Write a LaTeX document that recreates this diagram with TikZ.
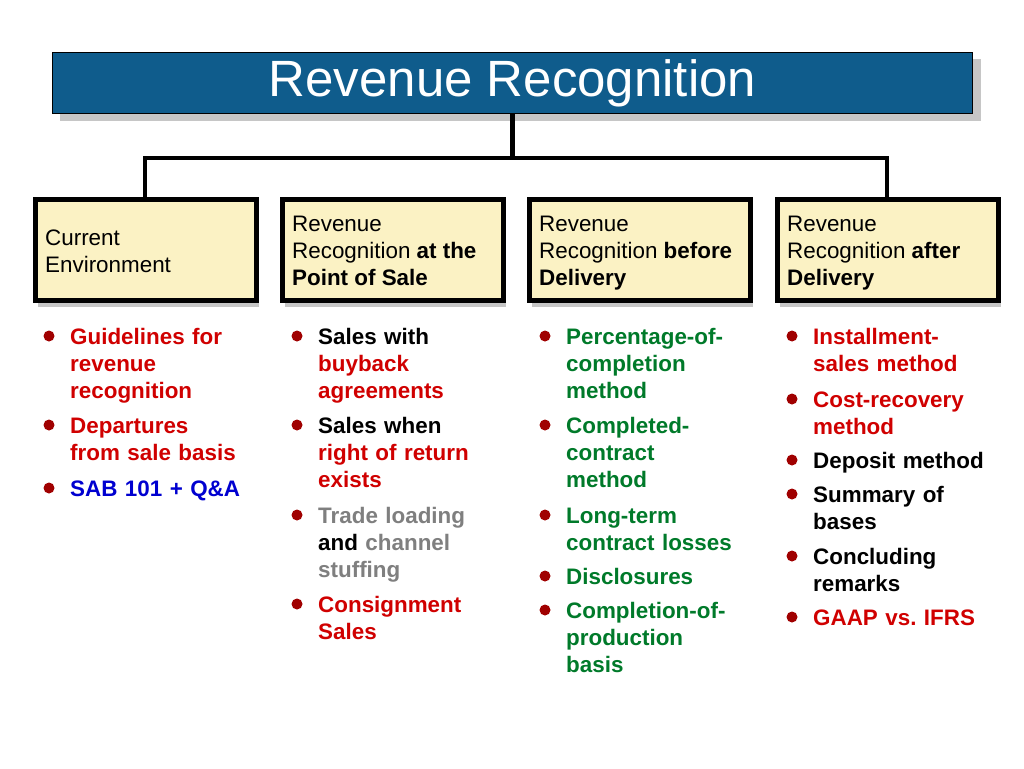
\documentclass[tikz,border=0pt]{standalone}
\usepackage{fontspec}
\setmainfont{Liberation Sans}
\usepackage{tikz}
\usetikzlibrary{calc}
\frenchspacing
\definecolor{titleblue}{HTML}{0F5C8C}
\definecolor{cream}{HTML}{FBF2C4}
\definecolor{dotred}{HTML}{A00000}
\definecolor{itred}{HTML}{D00000}
\definecolor{itgreen}{HTML}{007A2A}
\definecolor{itgray}{HTML}{7F7F7F}
\definecolor{itblue}{HTML}{0000D0}
\tikzset{
  headbox/.style={draw=black, line width=4.5pt, fill=cream, minimum width=221pt, minimum height=101pt, anchor=north west},
  headtext/.style={anchor=north west, align=left, font=\fontsize{22.4}{27}\selectfont, inner sep=0pt},
  itemtext/.style={anchor=base west, align=left, text width=190pt, font=\fontsize{22.4}{27.3}\selectfont\bfseries, inner sep=0pt},
  dot/.style={circle, fill=dotred, inner sep=0pt, minimum size=11pt},
  link/.style={line width=4.5pt}
}
\newcommand{\bitem}[4]{%
  \node[dot] (d#1) at (#2-21,#3) {};
  \node[itemtext] (t#1) at (#2,#3+8) {#4};}
\begin{document}
\begin{tikzpicture}[x=1pt,y=-1pt]
  \useasboundingbox[fill=white] (0,0) rectangle (1024,768);

  % title
  \fill[gray!45] (60,59) rectangle (981,121);
  \node[draw=black, line width=1pt, fill=titleblue, minimum width=920pt, minimum height=61pt, anchor=north west,
        text=white, font=\fontsize{51}{56}\selectfont] (title) at (52,52) {Revenue Recognition};

  % heads
  \foreach \n/\x in {a/33,b/280,c/527,d/775}{
    \fill[gray!45] (\x+5,202) rectangle (\x+226,307);
    \node[headbox] (\n) at (\x,197) {};
  }
  \node[headtext] at (45,230) {Current\\Environment};
  \node[headtext] at (292,216) {Revenue\\Recognition \textbf{at the}\\\textbf{Point of Sale}};
  \node[headtext] at (539,216) {Revenue\\Recognition \textbf{before}\\\textbf{Delivery}};
  \node[headtext] at (787,216) {Revenue\\Recognition \textbf{after}\\\textbf{Delivery}};

  % connectors
  \coordinate (hub) at ($(title.south)+(0,44)$);
  \draw[link] (title.south) -- (hub);
  \draw[link, line join=miter] (a.north -| 145,0) |- (hub) -| (d.north -| 887,0);

  % column 1
  \bitem{a1}{70}{336}{\color{itred}Guidelines for\\revenue\\recognition}
  \bitem{a2}{70}{425}{\color{itred}Departures\\from sale basis}
  \bitem{a3}{70}{488}{\color{itblue}SAB 101 + Q\&A}
  % column 2
  \bitem{b1}{318}{336}{Sales with\\\color{itred}buyback\\agreements}
  \bitem{b2}{318}{425}{Sales when\\\color{itred}right of return\\exists}
  \bitem{b3}{318}{515}{\textcolor{itgray}{Trade loading}\\and \textcolor{itgray}{channel}\\\textcolor{itgray}{stuffing}}
  \bitem{b4}{318}{604}{\color{itred}Consignment\\Sales}
  % column 3
  \bitem{c1}{566}{336}{\color{itgreen}Percentage-of-\\completion\\method}
  \bitem{c2}{566}{425}{\color{itgreen}Completed-\\contract\\method}
  \bitem{c3}{566}{515}{\color{itgreen}Long-term\\contract losses}
  \bitem{c4}{566}{576}{\color{itgreen}Disclosures}
  \bitem{c5}{566}{610}{\color{itgreen}Completion-of-\\production\\basis}
  % column 4
  \bitem{d1}{813}{336}{\color{itred}Installment-\\sales method}
  \bitem{d2}{813}{399}{\color{itred}Cost-recovery\\method}
  \bitem{d3}{813}{460}{Deposit method}
  \bitem{d4}{813}{494}{Summary of\\bases}
  \bitem{d5}{813}{556}{Concluding\\remarks}
  \bitem{d6}{813}{617}{\color{itred}GAAP vs. IFRS}
\end{tikzpicture}
\end{document}
